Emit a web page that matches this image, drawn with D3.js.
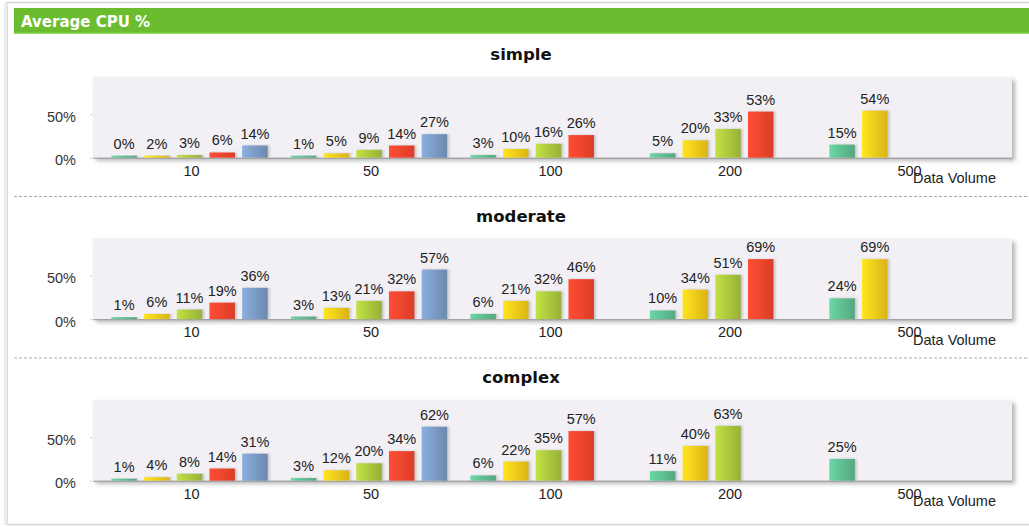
<!DOCTYPE html>
<html>
<head>
<meta charset="utf-8">
<script src="https://cdn.jsdelivr.net/npm/d3@7"></script>
<style>
  html, body { margin: 0; padding: 0; background: #fff; }
  svg { display: block; }
</style>
</head>
<body>
<svg id="chart" width="1029" height="527"></svg>
<script>
// Data volumes on the x axis and the five series drawn in each group
const volumes = ["10", "50", "100", "200", "500"];
const seriesKeys = ["s1", "s2", "s3", "s4", "s5"];
const seriesColors = ["#5dba8f", "#f3c71a", "#a8c43c", "#f4442c", "#7898c2"];
const yTicks = [0, 50];

// Average CPU % per panel: one row per volume, one entry per series (null = no bar)
const simpleValues = [
  [0, 2, 3, 6, 14],
  [1, 5, 9, 14, 27],
  [3, 10, 16, 26, null],
  [5, 20, 33, 53, null],
  [15, 54, null, null, null]
];
const moderateValues = [
  [1, 6, 11, 19, 36],
  [3, 13, 21, 32, 57],
  [6, 21, 32, 46, null],
  [10, 34, 51, 69, null],
  [24, 69, null, null, null]
];
const complexValues = [
  [1, 4, 8, 14, 31],
  [3, 12, 20, 34, 62],
  [6, 22, 35, 57, null],
  [11, 40, 63, null, null],
  [25, null, null, null, null]
];
const panels = [
  { name: "simple", values: simpleValues },
  { name: "moderate", values: moderateValues },
  { name: "complex", values: complexValues }
];

const svg = d3.select("#chart");
const W = 1029;
const labelFont = "'Liberation Sans', Arial, sans-serif";
const titleFont = "'DejaVu Sans', Verdana, sans-serif";
const labelSize = 14.5;

const defs = svg.append("defs");
seriesColors.forEach((c, i) => {
  const g = defs.append("linearGradient").attr("id", "grad" + i)
    .attr("x1", 0).attr("x2", 1).attr("y1", 0).attr("y2", 0);
  g.append("stop").attr("offset", "0%").attr("stop-color", d3.color(c).brighter(0.4));
  g.append("stop").attr("offset", "100%").attr("stop-color", d3.color(c).darker(0.3));
});
const shadow = defs.append("filter").attr("id", "plotShadow")
  .attr("x", "-2%").attr("y", "-10%").attr("width", "106%").attr("height", "130%");
shadow.append("feDropShadow").attr("dx", 3).attr("dy", 3).attr("stdDeviation", 2)
  .attr("flood-color", "#777").attr("flood-opacity", 0.55);
const barShadow = defs.append("filter").attr("id", "barShadow")
  .attr("x", "-20%").attr("y", "-10%").attr("width", "160%").attr("height", "130%");
barShadow.append("feDropShadow").attr("dx", 2).attr("dy", 0).attr("stdDeviation", 1)
  .attr("flood-color", "#999").attr("flood-opacity", 0.5);

// Outer frame
svg.append("rect").attr("x", 7).attr("y", 2.5).attr("width", W).attr("height", 522)
  .attr("fill", "#fff").attr("stroke", "#d4d4d4").attr("stroke-width", 1.5);
svg.append("rect").attr("x", 4).attr("y", 3).attr("width", 3).attr("height", 522)
  .attr("fill", "#ececec");

// Caption bar
svg.append("rect").attr("x", 14).attr("y", 8).attr("width", W - 14).attr("height", 26)
  .attr("fill", "#6bbd2f");
svg.append("rect").attr("x", 14).attr("y", 32.5).attr("width", W - 14).attr("height", 1.5)
  .attr("fill", "#8fd45a");
svg.append("text").attr("x", 21).attr("y", 27)
  .attr("font-family", titleFont).attr("font-weight", "bold").attr("font-size", 15)
  .attr("fill", "#fff").text("Average CPU %");

// Shared scales
const x = d3.scaleBand().domain(volumes).range([99.75, 997.25]);
const xInner = d3.scaleBand().domain(seriesKeys).range([8, x.bandwidth() - 8])
  .paddingInner(0.22).paddingOuter(0.11);
const plotLeft = 93, plotRight = 1012;
const panelStep = 161.5;

panels.forEach((p, pi) => {
  const oy = pi * panelStep;
  const plotTop = 77 + oy, base = 157.7 + oy;
  const y = d3.scaleLinear().domain([0, 92.7]).range([base, plotTop]);
  const g = svg.append("g");

  g.append("text").attr("x", 521).attr("y", 60 + oy).attr("text-anchor", "middle")
    .attr("font-family", titleFont).attr("font-weight", "bold").attr("font-size", 16.5)
    .attr("fill", "#111").text(p.name);

  g.append("rect").attr("x", plotLeft).attr("y", plotTop)
    .attr("width", plotRight - plotLeft).attr("height", base - plotTop)
    .attr("fill", "#f2f0f4").attr("filter", "url(#plotShadow)");
  g.append("line").attr("x1", plotLeft).attr("x2", plotRight)
    .attr("y1", base + 0.5).attr("y2", base + 0.5).attr("stroke", "#9a9a9a");

  // y axis
  const yAxis = g.append("g").attr("transform", `translate(${plotLeft - 1},0)`)
    .call(d3.axisLeft(y).tickValues(yTicks).tickSize(2).tickPadding(14)
      .tickFormat(d => d + "%"));
  yAxis.select(".domain").remove();
  yAxis.selectAll("line").attr("stroke", "#ccc");
  yAxis.selectAll("text").attr("font-family", labelFont).attr("font-size", labelSize)
    .attr("fill", "#333").attr("dy", "0.5em");

  // x axis
  const xAxis = g.append("g").attr("transform", `translate(0,${base})`)
    .call(d3.axisBottom(x).tickSize(0).tickPadding(8));
  xAxis.select(".domain").remove();
  xAxis.selectAll("text").attr("font-family", labelFont).attr("font-size", labelSize)
    .attr("fill", "#222").attr("dx", 2);

  g.append("text").attr("x", 996).attr("y", 183 + oy).attr("text-anchor", "end")
    .attr("font-family", labelFont).attr("font-size", labelSize).attr("fill", "#222")
    .text("Data Volume");

  // bars
  const items = [];
  p.values.forEach((row, vi) => row.forEach((v, si) => {
    if (v !== null) items.push({ vol: volumes[vi], key: seriesKeys[si], si, v });
  }));
  const grp = g.append("g");
  grp.selectAll("rect.bar").data(items).join("rect").attr("class", "bar")
    .attr("x", d => x(d.vol) + xInner(d.key))
    .attr("width", xInner.bandwidth())
    .attr("y", d => Math.min(y(d.v), base - 2))
    .attr("height", d => Math.max(base - y(d.v), 2))
    .attr("fill", d => `url(#grad${d.si})`)
    .attr("filter", "url(#barShadow)");
  grp.selectAll("text.val").data(items).join("text").attr("class", "val")
    .attr("x", d => x(d.vol) + xInner(d.key) + xInner.bandwidth() / 2)
    .attr("y", d => Math.min(y(d.v), base - 2) - 7)
    .attr("text-anchor", "middle")
    .attr("font-family", labelFont).attr("font-size", labelSize).attr("fill", "#222")
    .text(d => d.v + "%");

  if (pi < panels.length - 1) {
    g.append("line").attr("x1", 14).attr("x2", W)
      .attr("y1", 196.5 + oy).attr("y2", 196.5 + oy)
      .attr("stroke", "#aaa").attr("stroke-dasharray", "3,2");
  }
});
</script>
</body>
</html>
